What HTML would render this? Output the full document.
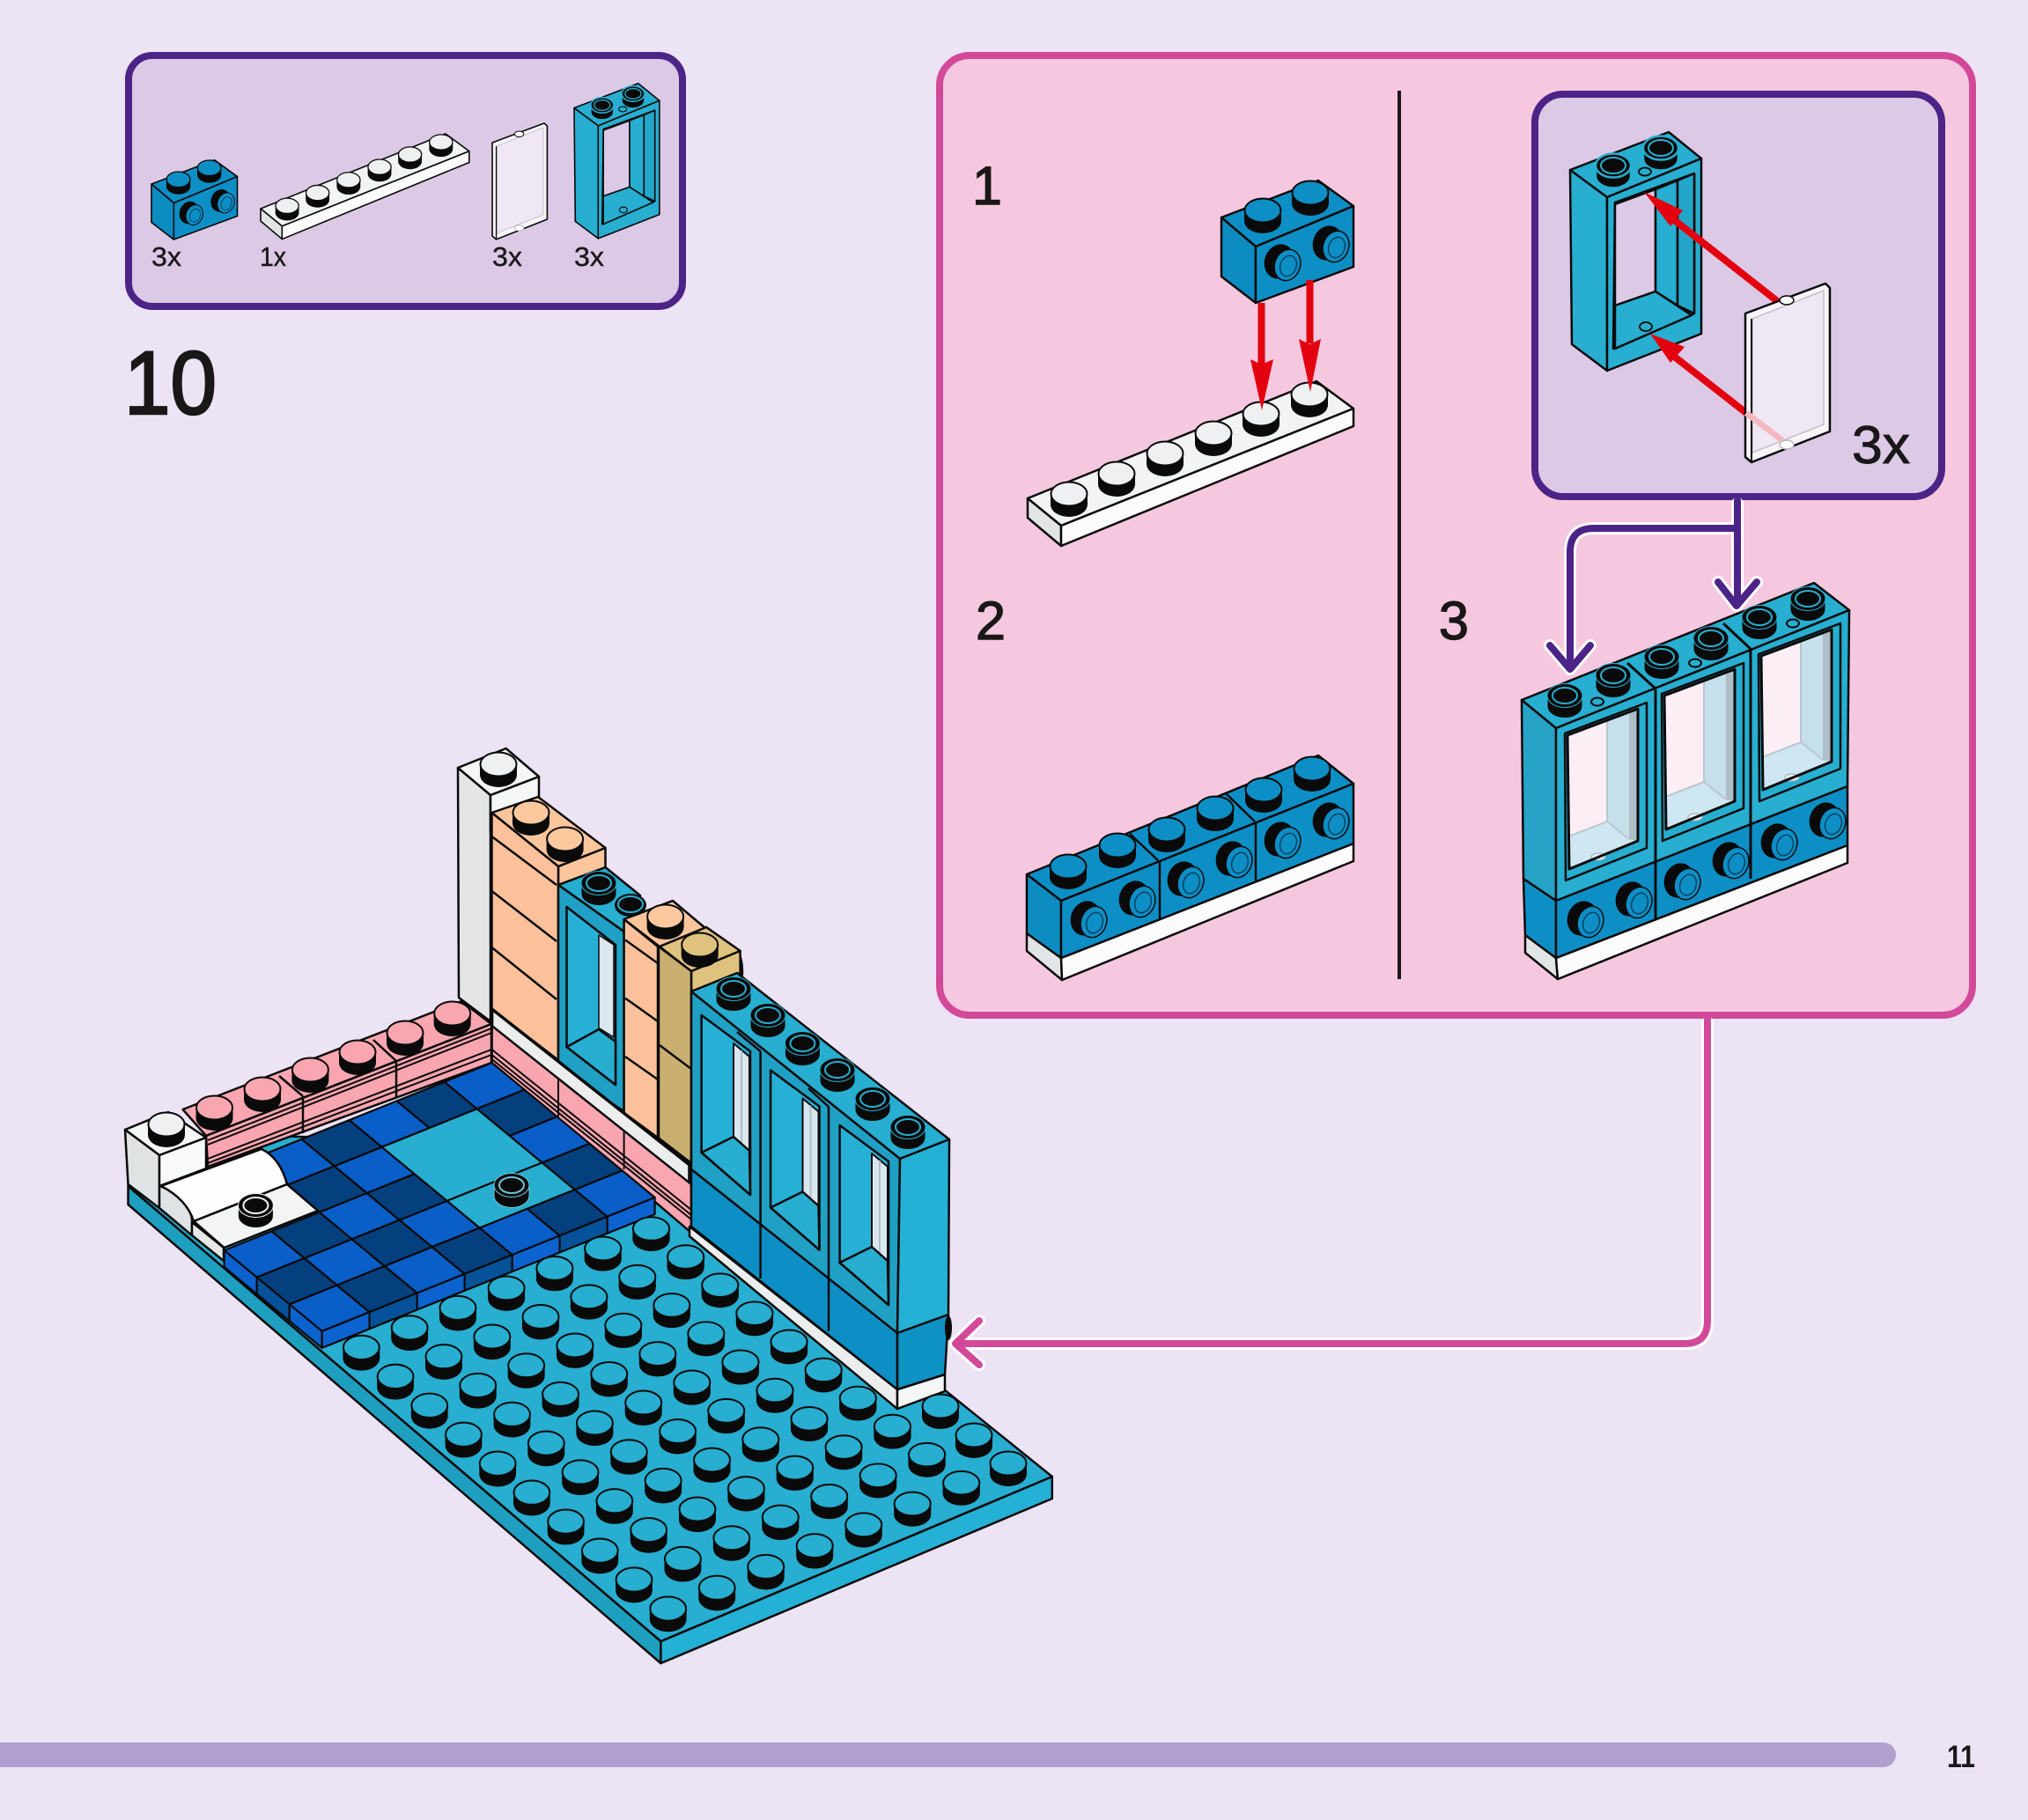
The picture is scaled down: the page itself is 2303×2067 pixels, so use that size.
<!DOCTYPE html>
<html><head><meta charset="utf-8"><style>
html,body{margin:0;padding:0;background:#ece3f4}
svg{display:block}
text{font-family:"Liberation Sans",sans-serif;fill:#1a1718}
</style></head><body>
<svg xmlns="http://www.w3.org/2000/svg" width="2303" height="2067" viewBox="0 0 2303 2067">
<defs>
<g id="st"><path d="M-21 0v12a21 14 0 0 0 42 0v-12z" fill="#0a0a0a"/><ellipse rx="20.5" ry="13.5" stroke="#0a0a0a" stroke-width="2"/></g>
<g id="sd"><path d="M-20 0v12a20 13.5 0 0 0 40 0v-12z" fill="#0a0a0a"/><ellipse rx="20" ry="13.5" fill="#0a0a0a"/><ellipse rx="14" ry="9" fill="none" stroke-width="2"/></g>
<g id="ss"><ellipse cx="-5" cy="-2" rx="17" ry="20" transform="rotate(20 -5 -2)" fill="#0a0a0a"/><ellipse cx="4" cy="2" rx="14.5" ry="18" transform="rotate(20 4 2)" fill="#0d8fc6" stroke="#0a0a0a" stroke-width="1.5"/><ellipse cx="5" cy="3" rx="9" ry="12" transform="rotate(20 5 3)" fill="none" stroke="#06405f" stroke-width="1.5"/></g>

<g id="brick" stroke="#0a0a0a" stroke-width="2.5" stroke-linejoin="round">
<polygon points="1387,247 1497,205 1537,234 1426,280" fill="#0d8fc6"/>
<polygon points="1387,247 1426,280 1426,344 1387,314" fill="#0d8cc2"/>
<polygon points="1426,280 1537,234 1537,303 1426,344" fill="#0d8fc6"/>
<use href="#st" x="1434" y="239" fill="#0d8fc6" stroke="none"/>
<use href="#st" x="1488" y="219" fill="#0d8fc6" stroke="none"/>
<use href="#ss" x="1458" y="299" stroke="none"/>
<use href="#ss" x="1513" y="278" stroke="none"/>
</g>

<g id="plate" stroke="#0a0a0a" stroke-width="2.5" stroke-linejoin="round">
<polygon points="1167,566 1495,433 1537,464 1205,597" fill="#f2f4f4"/>
<polygon points="1167,566 1205,597 1205,620 1167,588" fill="#e2e5e5"/>
<polygon points="1205,597 1537,464 1537,484 1205,620" fill="#fbfbfb"/>
<use href="#st" x="1214" y="561" fill="#eef0f1" stroke="none"/>
<use href="#st" x="1268" y="538" fill="#eef0f1" stroke="none"/>
<use href="#st" x="1323" y="515" fill="#eef0f1" stroke="none"/>
<use href="#st" x="1378" y="492" fill="#eef0f1" stroke="none"/>
<use href="#st" x="1432" y="470" fill="#eef0f1" stroke="none"/>
<use href="#st" x="1487" y="448" fill="#eef0f1" stroke="none"/>
</g>

<g id="frame" stroke="#0a0a0a" stroke-width="2.5" stroke-linejoin="round">
<polygon points="1783,193 1895,150 1932,180 1825,224" fill="#27aed0"/>
<polygon points="1783,193 1825,224 1825,421 1785,391" fill="#27aed0"/>
<polygon points="1825,224 1932,180 1932,379 1825,421" fill="#27aed0"/>
<polygon points="1834,230 1924,197 1924,356 1832,396" fill="#27aed0"/>
<polygon points="1834,232 1880,215 1880,331 1834,347" fill="#dcc9e6"/>
<polygon points="1880,215 1905,205 1905,347 1880,331" fill="#27aed0"/>
<polygon points="1905,205 1924,197 1924,356 1905,347" fill="#23a6c9"/>
<polygon points="1834,347 1880,331 1921,358 1834,396" fill="#27aed0"/>
<use href="#sd" x="1832" y="188" stroke="#27aed0"/>
<use href="#sd" x="1886" y="168" stroke="#27aed0"/>
<ellipse cx="1868" cy="195" rx="7" ry="4.5" fill="#27aed0" stroke-width="1.8"/>
<ellipse cx="1869" cy="371" rx="7" ry="5" fill="#27aed0" stroke-width="1.8"/>
</g>

<g id="glass" stroke-linejoin="round">
<polygon points="1982,356 2073,322 2078,327 2078,490 1989,525 1982,519" fill="#f8f4f9" stroke="#0a0a0a" stroke-width="2.5"/>
<polygon points="1990,362 2071,330 2071,482 1990,514" fill="#efe8f4" stroke="#c4c0c6" stroke-width="1.5"/>
<line x1="1989" y1="362" x2="1989" y2="525" stroke="#0a0a0a" stroke-width="2"/>
<ellipse cx="2029" cy="341" rx="8" ry="5" fill="#fff" stroke="#0a0a0a" stroke-width="1.5"/>
<ellipse cx="2029" cy="505" rx="8" ry="5" fill="#fff" stroke="#b8b8bc" stroke-width="1.5"/>
</g>

<polygon id="tile" points="0,0 37,30.6 -17,52.3 -54,21.7" stroke="#0a0a0a" stroke-width="2.2" stroke-linejoin="round"/>
<polygon id="fs" points="0,0 -54,21.7 -54,40.7 0,19" stroke="#0a0a0a" stroke-width="2.2" stroke-linejoin="round"/>
<polygon id="ls" points="0,0 37,30.6 37,49.6 0,19" stroke="#0a0a0a" stroke-width="2.2" stroke-linejoin="round"/>

<g id="col">
<use href="#st" x="-350.1" y="-293.4" fill="#27aed0"/>
<use href="#st" x="-311.2" y="-260.8" fill="#27aed0"/>
<use href="#st" x="-272.3" y="-228.2" fill="#27aed0"/>
<use href="#st" x="-233.4" y="-195.6" fill="#27aed0"/>
<use href="#st" x="-194.5" y="-163" fill="#27aed0"/>
<use href="#st" x="-155.6" y="-130.4" fill="#27aed0"/>
<use href="#st" x="-116.7" y="-97.8" fill="#27aed0"/>
<use href="#st" x="-77.8" y="-65.2" fill="#27aed0"/>
<use href="#st" x="-38.9" y="-32.6" fill="#27aed0"/>
<use href="#st" x="0" y="0" fill="#27aed0"/>
</g>

<g id="mw" stroke="#0a0a0a" stroke-width="2.5" stroke-linejoin="round">
<polygon points="796.6,1153 852,1194 852,1357 796.6,1309" fill="#27b0d6"/>
<polygon points="833,1185 851,1200 851,1307 833,1291" fill="#dbe7ee" stroke-width="2"/>
<line x1="842" y1="1193" x2="842" y2="1298" stroke="#aebfc8" stroke-width="2"/>
<polygon points="796.6,1309 833,1291 851,1307 852,1357" fill="#27aed0"/>
</g>

<g id="sw" stroke="#0a0a0a" stroke-width="2.5" stroke-linejoin="round">
<polygon points="1777,833 1870,798 1870,963 1778,1000" fill="#27aed0"/>
<polygon points="1780,835 1825,818 1825,933 1781,950" fill="#fbeef4" stroke="none"/>
<polygon points="1825,818 1850,808 1850,953 1825,933" fill="#c5dfeb" stroke="none"/>
<polygon points="1850,808 1860,805 1860,955 1850,953" fill="#aebfc8" stroke="none"/>
<polygon points="1781,950 1825,933 1850,953 1860,955 1782,987" fill="#cfe7f2" stroke="none"/>
<polyline points="1781,950 1825,933 1825,818" fill="none" stroke="#b9c6cd" stroke-width="2"/>
<polyline points="1825,933 1850,953" fill="none" stroke="#b9c6cd" stroke-width="2"/>
<ellipse cx="1815" cy="973" rx="8" ry="4" fill="#e8eef2" stroke="#a8b4ba" stroke-width="1.2"/>
<polygon points="1780,835 1860,805 1860,955 1782,987" fill="none" stroke-width="3"/>
</g>
</defs>

<rect width="2303" height="2067" fill="#ece3f4"/>

<!-- parts box -->
<rect x="146" y="63" width="629" height="285" rx="27" fill="#dcc9e6" stroke="#4c2487" stroke-width="8"/>
<use href="#brick" transform="translate(172 209) scale(.65) translate(-1387 -247)"/>
<use href="#plate" transform="translate(296 237) scale(.64) translate(-1167 -566)"/>
<use href="#glass" transform="translate(559 162) scale(.65) translate(-1982 -356)"/>
<use href="#frame" transform="translate(652 123) scale(.65) translate(-1783 -193.5)"/>
<g stroke="#1a1718" stroke-width=".4">
<text x="172" y="302" font-size="31" textLength="34" lengthAdjust="spacingAndGlyphs">3x</text>
<text x="295" y="302" font-size="31" textLength="30" lengthAdjust="spacingAndGlyphs">1x</text>
<text x="559" y="302" font-size="31" textLength="34" lengthAdjust="spacingAndGlyphs">3x</text>
<text x="652" y="302" font-size="31" textLength="34" lengthAdjust="spacingAndGlyphs">3x</text>
</g>
<text x="141" y="470" font-size="102" textLength="105" lengthAdjust="spacingAndGlyphs" stroke="#1a1718" stroke-width="2.5">10</text>

<!-- pink panel -->
<path d="M1939 1157V1500Q1939 1526 1913 1526H1090" fill="none" stroke="#fff" stroke-width="14"/>
<rect x="1067" y="63" width="1173" height="1090" rx="34" fill="#f6c8df" stroke="#d3499a" stroke-width="8"/>
<line x1="1589" y1="103" x2="1589" y2="1112" stroke="#1a1718" stroke-width="4"/>
<g stroke="#1a1718" stroke-width="1.4">
<text x="1104" y="232" font-size="61">1</text>
<text x="1108" y="726" font-size="61">2</text>
<text x="1634" y="726" font-size="61">3</text>
</g>

<!-- step 1 -->
<use href="#plate"/>
<use href="#brick"/>
<g fill="#e3000f">
<rect x="1428.5" y="344" width="8" height="70"/>
<polygon points="1420,408 1432.5,414 1446,408 1433,466"/>
<rect x="1483.5" y="318" width="8" height="72"/>
<polygon points="1475,385 1487.5,391 1500,385 1488,445"/>
</g>

<!-- step 2 -->
<g stroke="#0a0a0a" stroke-width="2.5" stroke-linejoin="round">
<polygon points="1166,1060 1205,1088 1206,1113 1166,1080" fill="#e2e5e5"/>
<polygon points="1205,1088 1537,958 1537,978 1206,1113" fill="#fbfbfb"/>
<polygon points="1166,993 1497,858 1537,890 1205,1023" fill="#0d8fc6"/>
<polygon points="1166,993 1205,1023 1205,1088 1166,1060" fill="#0d8cc2"/>
<polygon points="1205,1023 1537,890 1537,958 1205,1088" fill="#0d8fc6"/>
<line x1="1317" y1="978" x2="1317" y2="1045"/><line x1="1426" y1="935" x2="1426" y2="1000"/>
<line x1="1283" y1="947" x2="1315" y2="977"/><line x1="1393" y1="902" x2="1425" y2="933"/>
</g>
<g fill="#0d8fc6">
<use href="#st" x="1213" y="984"/><use href="#st" x="1269" y="960"/><use href="#st" x="1325" y="942"/><use href="#st" x="1380" y="918"/><use href="#st" x="1435" y="897"/><use href="#st" x="1490" y="873"/>
</g>
<use href="#ss" x="1238" y="1045"/><use href="#ss" x="1293" y="1022"/><use href="#ss" x="1348" y="1000"/><use href="#ss" x="1403" y="977"/><use href="#ss" x="1458" y="955"/><use href="#ss" x="1513" y="933"/>

<!-- inner box -->
<rect x="1743" y="107" width="462" height="457" rx="32" fill="#dcc9e6" stroke="#4c2487" stroke-width="8"/>
<use href="#frame"/>
<g stroke="#e3000f" stroke-width="8" fill="#e3000f">
<line x1="2022" y1="345" x2="1895" y2="245"/>
<line x1="1983" y1="469" x2="1895" y2="400"/>
</g>
<polygon points="1867,218 1911,239 1897,257" fill="#e3000f"/>
<polygon points="1874,379 1913,394 1897,412" fill="#e3000f"/>
<use href="#glass"/>
<line x1="1983" y1="469" x2="2024" y2="500" stroke="#f5b8c0" stroke-width="7"/>
<text x="2103" y="526" font-size="60" textLength="66" lengthAdjust="spacingAndGlyphs" stroke="#1a1718" stroke-width="1">3x</text>

<!-- step 3 -->
<g stroke="#0a0a0a" stroke-width="2.5" stroke-linejoin="round">
<polygon points="1732,1062 1767,1088 1769,1112 1732,1082" fill="#e2e5e5"/>
<polygon points="1767,1088 2098,960 2098,980 1769,1112" fill="#fbfbfb"/>
<polygon points="1728,795 2060,662 2100,693 1767,827" fill="#27aed0"/>
<polygon points="1728,795 1767,827 1767,1023 1730,998" fill="#27a3c8"/>
<polygon points="1730,998 1767,1023 1767,1088 1732,1062" fill="#0d8fc6"/>
<polygon points="1767,827 2100,693 2098,893 1767,1023" fill="#27aed0"/>
<polygon points="1767,1023 2098,893 2098,960 1767,1088" fill="#0d8fc6"/>
</g>
<use href="#sw"/><use href="#sw" transform="translate(110 -45)"/><use href="#sw" transform="translate(220 -90)"/>
<g stroke="#0a0a0a" stroke-width="3">
<line x1="1880" y1="783" x2="1880" y2="1045"/><line x1="1988" y1="738" x2="1988" y2="998"/>
<line x1="1848" y1="753" x2="1880" y2="782"/><line x1="1957" y1="708" x2="1988" y2="737"/>
</g>
<g stroke="#27aed0">
<use href="#sd" x="1777" y="790"/><use href="#sd" x="1832" y="767"/><use href="#sd" x="1887" y="746"/><use href="#sd" x="1943" y="725"/><use href="#sd" x="1998" y="701"/><use href="#sd" x="2053" y="680"/>
</g>
<g fill="#27aed0" stroke="#0a0a0a" stroke-width="2">
<ellipse cx="1814" cy="797" rx="7" ry="4.5"/><ellipse cx="1925" cy="753" rx="7" ry="4.5"/><ellipse cx="2036" cy="708" rx="7" ry="4.5"/>
</g>
<use href="#ss" x="1802" y="1045"/><use href="#ss" x="1857" y="1023"/><use href="#ss" x="1912" y="1002"/><use href="#ss" x="1967" y="978"/><use href="#ss" x="2022" y="957"/><use href="#ss" x="2077" y="933"/>

<!-- purple connectors -->
<g fill="none" stroke-linecap="round" stroke-linejoin="round">
<g stroke="#fff" stroke-width="14">
<path d="M1973 572V684M1973 600H1810Q1783 600 1783 627V757"/>
<polyline points="1951,661 1972,688 1995,661"/>
<polyline points="1760,733 1783,760 1806,733"/>
</g>
<g stroke="#4c2487" stroke-width="8">
<path d="M1973 568V684M1973 600H1810Q1783 600 1783 627V757"/>
<polyline points="1951,661 1972,688 1995,661"/>
<polyline points="1760,733 1783,760 1806,733"/>
</g>
</g>

<!-- main model: base plate -->
<g stroke="#0a0a0a" stroke-width="2.5" stroke-linejoin="round">
<polygon points="145.5,1347 750.4,1864 750.4,1889 145.5,1368" fill="#1f9fc0"/>
<polygon points="750.4,1864 1194.8,1677 1194.8,1702 750.4,1889" fill="#25b0d6"/>
<polygon points="145.5,1347 750.4,1864 1194.8,1677 1000,1520 700,1300 300,1290" fill="#27aed0"/>

<!-- white pillar -->
<polygon points="520,872 557,903 557,1160 521,1133" fill="#e4e6e6"/>
<polygon points="557,903 612,882 612,925 557,945" fill="#f5f6f6"/>
<polygon points="520,872 574.6,850 612,882 557,903" fill="#f5f6f6"/>

<!-- peach 1 -->
<polygon points="558.5,923 611,905 687.5,963 634,984" fill="#fcc69d"/>
<polygon points="634,984 687.5,963 687.5,990 634,1010" fill="#fcc69d"/>
<polygon points="558.5,923 634,984 634,1204 558.5,1146" fill="#fcc19a"/>
<line x1="558.5" y1="950" x2="632" y2="1005"/>
<line x1="558.5" y1="1012" x2="632" y2="1069"/>
<line x1="558.5" y1="1076" x2="632" y2="1135"/>

<!-- window 1 -->
<polygon points="634,1005 687.5,985 727,1017 708.6,1058" fill="#27aed0"/>
<polygon points="634,1005 708.6,1058 708.6,1262 634,1214" fill="#1fa0c4"/>
<polygon points="643.5,1030 699,1073 699,1232 643.5,1189" fill="#27b0d6"/>
<polygon points="680,1062 697,1073 697,1178 680,1167.5" fill="#dbe7ee" stroke-width="1.5"/>
<polygon points="643.5,1189 680,1169 699,1183 699,1232" fill="#27aed0"/>

<!-- peach 2 -->
<polygon points="708.6,1044 764,1023 802,1055 749,1075" fill="#fcc69d"/>
<polygon points="708.6,1044 747,1075 747,1292 708.6,1264" fill="#fcc19a"/>
<line x1="710" y1="1067.5" x2="747" y2="1094"/>
<line x1="710" y1="1133.6" x2="747" y2="1160"/>
<line x1="710" y1="1200" x2="747" y2="1226"/>

<!-- tan -->
<path d="M802 1053L835 1076Q843 1085 843 1105L842 1118L785 1126Z" fill="#0a0a0a"/>
<polygon points="749,1075 802,1053 840.6,1080 785,1103" fill="#dfc27d"/>
<polygon points="785,1103 840.6,1080 840.6,1105 785,1126" fill="#dfc27d"/>
<polygon points="748,1075 785,1103 785,1321 748,1292.5" fill="#c9b071"/>
<line x1="749" y1="1187" x2="785" y2="1214"/>

<!-- white strip and pink right wall -->
<polygon points="558.6,1146 783,1323 783,1346 558.6,1168" fill="#eceeee" stroke-width="3.5"/>
<polygon points="558.6,1165 785,1345 785,1400 558.6,1207" fill="#f9a6b0"/>
<g stroke-width="2"><line x1="558.6" y1="1192" x2="785" y2="1374"/><line x1="558.6" y1="1198" x2="785" y2="1380"/><line x1="558.6" y1="1203" x2="785" y2="1385"/></g>
<line x1="634" y1="1226" x2="634" y2="1268" stroke-width="2"/>
<line x1="708.6" y1="1285" x2="708.6" y2="1328" stroke-width="2"/>

<!-- pink back wall -->
<polygon points="207.6,1260 524,1137 558,1163 234,1290" fill="#f9a6b0"/>
<polygon points="234,1290 558,1163 558,1207 236,1325" fill="#f9a6b0"/>
<g stroke-width="2">
<line x1="236" y1="1295" x2="558" y2="1168"/><line x1="236" y1="1300" x2="558" y2="1173"/>
<line x1="236" y1="1316" x2="558" y2="1192"/><line x1="236" y1="1321" x2="558" y2="1198"/>
</g>
<line x1="344" y1="1245" x2="344" y2="1287"/><line x1="450" y1="1205" x2="450" y2="1247"/>
<line x1="317" y1="1222" x2="344" y2="1245"/><line x1="424" y1="1181" x2="450" y2="1205"/>
</g>

<use href="#st" x="566" y="868" fill="#eef0f1"/>
<use href="#st" x="603" y="923" fill="#fcc99f"/>
<use href="#st" x="641.6" y="953" fill="#fcc99f"/>
<use href="#sd" x="680" y="1003" stroke="#27aed0"/>
<ellipse cx="716" cy="1028" rx="18" ry="13" fill="#0a0a0a"/>
<ellipse cx="716" cy="1027" rx="14" ry="9" fill="none" stroke="#27aed0" stroke-width="2"/>
<use href="#st" x="755.6" y="1041" fill="#fcc99f"/>
<use href="#st" x="794.7" y="1073" fill="#dfc27d"/>
<use href="#st" x="243.5" y="1258" fill="#f9a6b0"/>
<use href="#st" x="298" y="1237" fill="#f9a6b0"/>
<use href="#st" x="352.4" y="1215" fill="#f9a6b0"/>
<use href="#st" x="406" y="1195" fill="#f9a6b0"/>
<use href="#st" x="460" y="1173" fill="#f9a6b0"/>
<use href="#st" x="513.7" y="1151" fill="#f9a6b0"/>

<!-- floor -->
<g fill="#0a5ec8">
<use href="#tile" x="558.6" y="1207"/><use href="#tile" x="450.6" y="1250.4"/><use href="#tile" x="342.6" y="1293.8"/>
<use href="#tile" x="433.6" y="1302.7"/>
<use href="#tile" x="632.6" y="1268.2"/><use href="#tile" x="416.6" y="1355"/><use href="#tile" x="308.6" y="1398.4"/>
<use href="#tile" x="507.6" y="1363.9"/><use href="#tile" x="399.6" y="1407.3"/>
<use href="#tile" x="706.6" y="1329.4"/><use href="#tile" x="598.6" y="1372.8"/><use href="#tile" x="490.6" y="1416.2"/><use href="#tile" x="382.6" y="1459.6"/>
</g>
<g fill="#043f7e">
<use href="#tile" x="504.6" y="1228.7"/><use href="#tile" x="396.6" y="1272.1"/>
<use href="#tile" x="595.6" y="1237.6"/><use href="#tile" x="379.6" y="1324.4"/>
<use href="#tile" x="470.6" y="1333.3"/><use href="#tile" x="362.6" y="1376.7"/>
<use href="#tile" x="669.6" y="1298.8"/><use href="#tile" x="453.6" y="1385.6"/><use href="#tile" x="345.6" y="1429"/>
<use href="#tile" x="652.6" y="1351.1"/><use href="#tile" x="544.6" y="1394.5"/><use href="#tile" x="436.6" y="1437.9"/>
</g>
<g stroke="#0a0a0a" stroke-width="2.2" stroke-linejoin="round" fill="#27aed0">
<polygon points="541.6,1259.3 615.6,1320.5 507.6,1363.9 433.6,1302.7"/>
<polygon points="615.6,1320.5 652.6,1351.1 544.6,1394.5 507.6,1363.9"/>
</g>
<g fill="#0c62cf">
<use href="#fs" x="743.6" y="1360"/><use href="#fs" x="635.6" y="1403.4"/><use href="#fs" x="527.6" y="1446.8"/><use href="#fs" x="419.6" y="1490.2"/>
<use href="#ls" x="254.6" y="1420"/><use href="#ls" x="328.6" y="1481.2"/>
</g>
<g fill="#06529a">
<use href="#fs" x="689.6" y="1381.7"/><use href="#fs" x="581.6" y="1425.1"/><use href="#fs" x="473.6" y="1468.5"/>
<use href="#ls" x="291.6" y="1450.6"/>
</g>
<use href="#sd" x="581" y="1346" stroke="#6fc4d8"/>

<!-- corner brick + slope -->
<g stroke="#0a0a0a" stroke-width="2.5" stroke-linejoin="round">
<polygon points="142,1283 191,1263 234,1292 181,1312" fill="#f5f6f6"/>
<polygon points="142,1283 181,1312 181,1372 145.5,1345" fill="#e0e3e3"/>
<polygon points="181,1312 234,1292 234,1327 181,1347" fill="#f8f9f9"/>
<path d="M181 1347Q214 1358 218 1385V1403L181 1372Z" fill="#e0e3e3"/>
<path d="M183 1347L297 1305Q318 1315 326 1345L220 1387Q212 1362 183 1347Z" fill="#fdfdfd"/>
<polygon points="220,1387 326,1345 361,1375 254.5,1417" fill="#f3f4f4"/>
<polygon points="218,1388 254,1417 254,1432 218,1403" fill="#e6e8e8"/>
</g>
<use href="#st" x="189" y="1277" fill="#eef0f1"/>
<use href="#sd" x="290.4" y="1369" stroke="#eef0f1"/>

<!-- window block -->
<g stroke="#0a0a0a" stroke-width="2.5" stroke-linejoin="round">
<polygon points="783,1393 1019,1578 1019,1600 783,1404" fill="#eceeee"/>
<polygon points="1019,1578 1073,1561 1073,1580 1019,1600" fill="#f5f6f6"/>
<polygon points="785,1126 1022,1316 1019,1514 785,1328" fill="#1fa0c4"/>
<polygon points="785,1328 1019,1514 1019,1578 785,1393" fill="#0d8fc6"/>
<polygon points="785,1126 837,1105 1078,1294 1022,1316" fill="#27aed0"/>
<polygon points="1022,1316 1078,1294 1077,1493 1019,1514" fill="#25b0d6"/>
<polygon points="1019,1514 1077,1493 1073,1561 1019,1578" fill="#0e93c4"/>
</g>
<ellipse cx="1077" cy="1508" rx="4" ry="14" fill="#0a0a0a"/>
<use href="#mw"/><use href="#mw" transform="translate(78.5 62.5)"/><use href="#mw" transform="translate(157 125)"/>
<g stroke="#0a0a0a" stroke-width="2.5">
<line x1="863.6" y1="1194" x2="863.6" y2="1452"/>
<line x1="941" y1="1257" x2="941" y2="1512"/>
<line x1="837" y1="1172" x2="863.6" y2="1194"/>
<line x1="918" y1="1236" x2="941" y2="1257"/>
</g>
<g stroke="#27aed0">
<use href="#sd" x="833" y="1123"/><use href="#sd" x="872" y="1153"/><use href="#sd" x="911.4" y="1185"/><use href="#sd" x="951" y="1215"/><use href="#sd" x="991" y="1248"/><use href="#sd" x="1031" y="1280"/>
</g>

<!-- base plate studs -->
<use href="#col" transform="translate(758.7 1827) scale(.995 1.011)"/>
<use href="#col" transform="translate(814.2 1803.2) scale(.997 1.0065)"/>
<use href="#col" transform="translate(869.7 1779.4) scale(.999 1.002)"/>
<use href="#col" transform="translate(925.2 1755.6) scale(1 .9975)"/>
<use href="#col" transform="translate(980.7 1731.8) scale(1.002 .993)"/>
<use href="#col" transform="translate(1036.2 1708) scale(1.004 .9885)"/>
<use href="#col" transform="translate(1091.7 1684.2) scale(1.006 .984)"/>
<use href="#st" x="1068" y="1597" fill="#27aed0"/>
<use href="#st" x="1106" y="1630" fill="#27aed0"/>
<use href="#st" x="1145" y="1662" fill="#27aed0"/>

<!-- pink connector -->
<g fill="none" stroke-linecap="round" stroke-linejoin="round">
<g stroke="#fff" stroke-width="14">
<path d="M1090 1526H1913Q1939 1526 1939 1500V1162"/>
<polyline points="1112,1500 1085,1526 1112,1550"/>
</g>
<g stroke="#d3499a" stroke-width="8">
<path d="M1090 1526H1913Q1939 1526 1939 1500V1157"/>
<polyline points="1112,1500 1085,1526 1112,1550"/>
</g>
</g>

<!-- footer -->
<rect x="-30" y="1979" width="2183" height="28" rx="14" fill="#b19fd0"/>
<text x="2211" y="2007" font-size="35" font-weight="bold" textLength="32" lengthAdjust="spacingAndGlyphs">11</text>
</svg>
</body></html>
